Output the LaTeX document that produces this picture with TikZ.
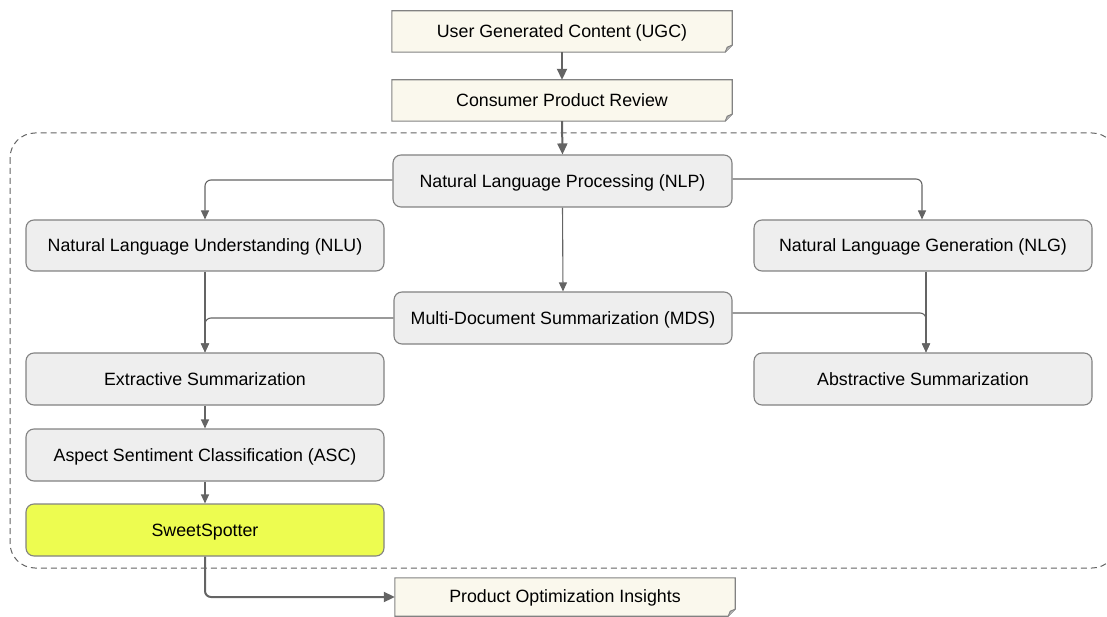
\documentclass[tikz,border=0pt]{standalone}
\usepackage{fontspec}
\setmainfont{Liberation Sans}
\usetikzlibrary{arrows.meta,calc}
\definecolor{boxfill}{RGB}{238,238,238}
\definecolor{boxline}{RGB}{130,130,130}
\definecolor{docfill}{RGB}{250,248,237}
\definecolor{ssfill}{RGB}{237,252,80}
\definecolor{conn}{RGB}{100,100,100}
\tikzset{
  base/.style={minimum height=52pt, inner sep=0pt, text depth=0pt, font=\fontsize{17.8}{20}\selectfont, text=black},
  procbox/.style={base, draw=boxline, line width=1.1pt, fill=boxfill, rounded corners=8pt},
  ssbox/.style={procbox, fill=ssfill},
  docbox/.style={base, minimum width=340pt, minimum height=41pt},
  doceared/.style={draw=boxline, line width=1.1pt, fill=docfill},
  link/.style={draw=conn, line width=1.1pt, rounded corners=6pt, -{Triangle[length=9pt,width=8pt]}},
  thicklink/.style={link, line width=2pt, -{Triangle[length=11pt,width=10pt]}},
  container/.style={draw=conn, line width=1pt, dash pattern=on 6pt off 4pt, rounded corners=25pt}
}
\newcommand{\dogear}[1]{%
  \path[doceared] (#1.north west) -- (#1.north east) -- ([yshift=7pt]#1.south east) -- ([xshift=-7pt]#1.south east) -- (#1.south west) -- cycle;
  \draw[draw=boxline, line width=1pt, fill=boxline!60] ([yshift=7pt]#1.south east) -- ([xshift=-5pt,yshift=5pt]#1.south east) -- ([xshift=-7pt]#1.south east);
}
\begin{document}
\begin{tikzpicture}[x=1pt,y=-1pt]
\useasboundingbox (0,0) rectangle (1107,617);
% container
\draw[container] (10,133) rectangle (1117,568);
% document boxes
\node[docbox] (ugc) at (562,31.5) {};
\dogear{ugc}
\node[docbox] at (562,31.5) {User Generated Content (UGC)};
\node[docbox] (cpr) at (562,100.5) {};
\dogear{cpr}
\node[docbox] at (562,100.5) {Consumer Product Review};
\node[docbox, minimum height=38pt] (poi) at (565,597) {};
\dogear{poi}
\node[docbox, minimum height=38pt] at (565,596) {Product Optimization Insights};
% process boxes
\node[procbox, minimum width=339pt] (nlp) at (562.5,181) {Natural Language Processing (NLP)};
\node[procbox, minimum width=358pt, minimum height=51pt] (nlu) at (205,245.5) {Natural Language Understanding (NLU)};
\node[procbox, minimum width=338pt, minimum height=51pt] (nlg) at (923,245.5) {Natural Language Generation (NLG)};
\node[procbox, minimum width=338pt] (mds) at (563,318) {Multi-Document Summarization (MDS)};
\node[procbox, minimum width=358pt] (ext) at (205,379) {Extractive Summarization};
\node[procbox, minimum width=338pt] (abs) at (923,379) {Abstractive Summarization};
\node[procbox, minimum width=358pt] (asc) at (205,455) {Aspect Sentiment Classification (ASC)};
\node[ssbox, minimum width=358pt] (ss) at (205,530) {SweetSpotter};
% connectors
\draw[thicklink] (ugc.south) -- (cpr.north);
\draw[thicklink] (cpr.south) -- (nlp.north);
\draw[link] ([yshift=1pt]nlp.west) -| (nlu.north);
\draw[link] ([yshift=2pt]nlp.east) -| ([xshift=-1pt]nlg.north);
\draw[link] (nlp.south) -- (mds.north);
\draw[link] (nlu.south) -- (ext.north);
\draw[link] (mds.west) -| (ext.north);
\draw[link] ([xshift=3pt]nlg.south) -- ([xshift=3pt]abs.north);
\draw[link] ([yshift=5pt]mds.east) -| ([xshift=3pt]abs.north);
\draw[link] (ext.south) -- (asc.north);
\draw[link] (asc.south) -- (ss.north);
\draw[thicklink] (ss.south) |- (poi.west);
\end{tikzpicture}
\end{document}
